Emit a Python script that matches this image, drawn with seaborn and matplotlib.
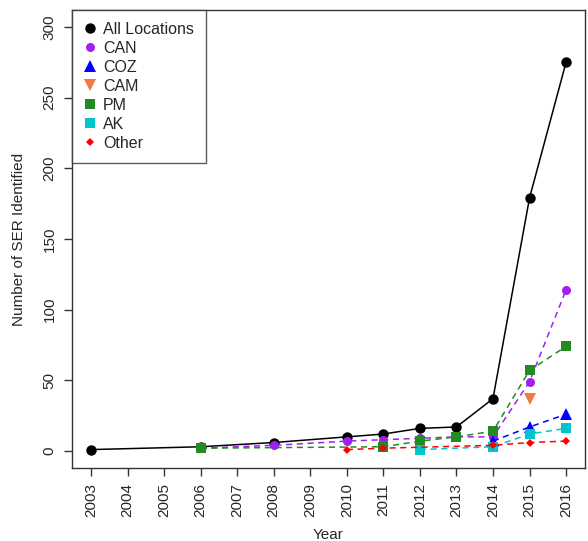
import pandas as pd
import matplotlib
matplotlib.use("Agg")
import matplotlib.pyplot as plt
import seaborn as sns

# ==========================================
# data
# ==========================================
years_all = [2003, 2006, 2008, 2010, 2011, 2012, 2013, 2014, 2015, 2016]
all_locations = [1, 3, 6, 10, 12, 16, 17, 37, 179, 275]

years_can = [2006, 2008, 2010, 2011, 2012, 2013, 2014, 2015, 2016]
can = [2, 4, 7, 8, 9, 10, 10, 49, 114]

years_coz = [2014, 2015, 2016]
coz = [7, 17, 26]

years_cam = [2015]
cam = [37]

years_pm = [2006, 2011, 2012, 2013, 2014, 2015, 2016]
pm = [2, 3, 7, 10, 14, 57, 74]

years_ak = [2012, 2014, 2015, 2016]
ak = [1, 3, 12, 16]

years_other = [2010, 2011, 2014, 2015, 2016]
other = [1, 2, 4, 6, 7]

tick_years = list(range(2003, 2017))

# ==========================================
# style
# ==========================================
sns.set_style("ticks")
plt.rcParams['font.family'] = ['Liberation Sans', 'DejaVu Sans']

series = [
    ("All Locations", years_all, all_locations, "black", "o", 7.5, "-"),
    ("CAN", years_can, can, "#A020F0", "o", 6.5, "--"),
    ("COZ", years_coz, coz, "blue", "^", 8, "--"),
    ("CAM", years_cam, cam, "#EE7942", "v", 9, "--"),
    ("PM", years_pm, pm, "#228B22", "s", 6.5, "--"),
    ("AK", years_ak, ak, "#00C5CD", "s", 6.5, "--"),
    ("Other", years_other, other, "red", "D", 4.5, "--"),
]

fig = plt.figure(figsize=(5.88, 5.41), dpi=100)
ax = fig.add_axes([0.1224, 0.135, 0.8726, 0.8465])

for name, xs, ys, color, marker, ms, ls in series:
    df = pd.DataFrame({"Year": xs, "Count": ys})
    sns.lineplot(data=df, x="Year", y="Count", ax=ax, color=color, marker=marker,
                 markersize=ms, markeredgewidth=0, linestyle=ls, linewidth=1.1,
                 label=name, legend=False)
    if ls == "--":
        ax.lines[-1].set_dashes([4, 3])

ax.set_xlim(2002.48, 2016.52)
ax.set_ylim(-12, 312)
ax.set_xticks(tick_years)
ax.set_xticklabels([str(y) for y in tick_years], rotation=90, fontsize=11)
ax.set_yticks([0, 50, 100, 150, 200, 250, 300])
ax.set_yticklabels(["0", "50", "100", "150", "200", "250", "300"],
                   rotation=90, va="center", fontsize=11)
ax.tick_params(direction="out", length=6, width=1, color="#333333", pad=5)
ax.set_xlabel("Year", fontsize=11, labelpad=8)
ax.set_ylabel("Number of SER Identified", fontsize=11, labelpad=12)
for sp in ax.spines.values():
    sp.set_visible(True)
    sp.set_linewidth(1)
    sp.set_color("#333333")

handles = []
for name, xs, ys, color, marker, ms, ls in series:
    h = plt.Line2D([], [], color=color, marker=marker, markersize=ms,
                   markeredgewidth=0, linestyle="none", label=name)
    handles.append(h)
leg = ax.legend(handles=handles, loc="upper left", borderaxespad=0,
                fontsize=11.5, frameon=True, fancybox=False,
                handletextpad=0.4, labelspacing=0.25, borderpad=0.75,
                handlelength=0.8)
leg.get_frame().set_edgecolor("#333333")
leg.get_frame().set_linewidth(1)

fig.savefig("out.png", dpi=100)
